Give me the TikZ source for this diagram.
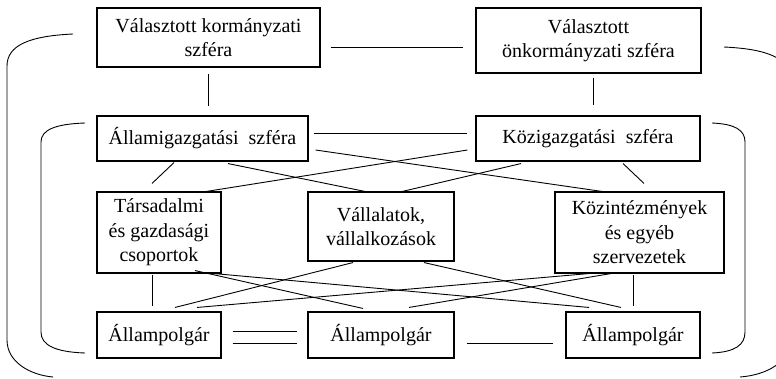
\documentclass[tikz,border=0pt]{standalone}
\usepackage{fontspec}
\setmainfont{Liberation Serif}
\usetikzlibrary{calc}
\begin{document}
\begin{tikzpicture}[x=1pt,y=-1pt,
  box/.style={draw,line width=1.1pt,inner sep=0pt,align=center,
    font=\fontsize{20}{24.5}\selectfont},
  link/.style={line width=0.9pt},
  bracket/.style={line width=0.9pt}]
\useasboundingbox (0,0) rectangle (776,378);
\clip (0,0) rectangle (776,378);

% first row: elected spheres
\node[box,minimum width=223pt,minimum height=59pt] (vk) at (208.5,37.5) {Választott kormányzati\\szféra};
\node[box,minimum width=225pt,minimum height=65pt] (vo) at (588.5,40.5) {Választott\\önkormányzati szféra};
% second row: administration
\node[box,minimum width=211pt,minimum height=45pt] (ai) at (202.5,138.5) {Államigazgatási\ \ szféra};
\node[box,minimum width=224pt,minimum height=45pt] (ki) at (588,138.5) {Közigazgatási\ \ szféra};
% third row: organisations
\node[box,minimum width=124pt,minimum height=81pt] (ts) at (159,232.5) {Társadalmi\\és gazdasági\\csoportok};
\node[box,minimum width=146pt,minimum height=69pt] (va) at (381,226.5) {Vállalatok,\\vállalkozások};
\node[box,minimum width=169pt,minimum height=81pt] (ke) at (639.5,232.5) {Közintézmények\\és egyéb\\szervezetek};
% fourth row: citizens
\node[box,minimum width=124pt,minimum height=46pt] (p1) at (159,335) {Állampolgár};
\node[box,minimum width=146pt,minimum height=46pt] (p2) at (381,335) {Állampolgár};
\node[box,minimum width=134pt,minimum height=46pt] (p3) at (633,335) {Állampolgár};

% connections of the upper rows
\draw[link] ($(vk.east)+(10,9.5)$) -- ($(vo.west)+(-12,6.5)$);
\draw[link] ($(vk.south)+(-0.5,6)$) -- ($(ai.north)+(5.5,-9)$);
\draw[link] ($(vo.south)+(4.5,4)$) -- ($(ki.north)+(5,-10)$);
\draw[link] ($(ai.east)+(5,-5.5)$) -- ($(ki.west)+(-8,-5.5)$);
\draw[link] ($(ai.east)+(7,11.5)$) -- ($(ke.north)+(-30.5,1)$);
\draw[link] ($(ki.west)+(-8,11.5)$) -- ($(ts.north)+(41,1)$);
\draw[link] ($(ai.south)+(25.5,2)$) -- ($(va.north)+(-11,1)$);
\draw[link] ($(ki.south)+(-67,2)$) -- ($(va.north)+(17,1)$);
\draw[link] ($(ai.south)+(-28.5,1)$) -- ($(ts.north)+(-7,-8)$);
\draw[link] ($(ki.south)+(35,2)$) -- ($(ke.north)+(4.5,-8)$);

% connections down to the citizens
\draw[link] ($(ts.south)+(-7,1)$) -- ($(p1.north)+(-7,-5)$);
\draw[link] ($(ke.south)+(-6.5,1)$) -- ($(p3.north)+(0,-5)$);
\draw[link] ($(ts.south)+(36,-3)$) -- ($(p2.north)+(-18,-3)$);
\draw[link] ($(ts.south)+(55,0)$) -- ($(p3.north)+(-44,-4)$);
\draw[link] ($(va.south)+(-28,1)$) -- ($(p1.north)+(16,-4)$);
\draw[link] ($(va.south)+(43,1)$) -- ($(p3.north)+(-12,-4)$);
\draw[link] ($(ke.south)+(-50.5,0)$) -- ($(p1.north)+(38,-4)$);
\draw[link] ($(ke.south)+(-28.5,0)$) -- ($(p2.north)+(28,-4)$);

% links between the citizens
\draw[link] ($(p1.east)+(11,-4)$) -- ($(p2.west)+(-10,-4)$);
\draw[link] ($(p1.east)+(11,8)$) -- ($(p2.west)+(-10,8)$);
\draw[link] ($(p2.east)+(12,8)$) -- ($(p3.west)+(-12,8)$);

% outer brackets
\draw[bracket] (73,34) .. controls (30,36) and (7,45) .. (7,66) -- (7,340)
  .. controls (7,362) and (30,375) .. (53,377);
\draw[bracket] (724,47) .. controls (767,49) and (790,58) .. (790,79) -- (790,340)
  .. controls (790,362) and (767,375) .. (740,377);
% inner brackets
\draw[bracket] (85,123) .. controls (55,124) and (41,130) .. (41,142) -- (41,332)
  .. controls (41,345) and (55,352) .. (85,353);
\draw[bracket] (712,123) .. controls (735,124) and (745,130) .. (745,142) -- (745,332)
  .. controls (745,345) and (735,352) .. (712,353);
\end{tikzpicture}
\end{document}
